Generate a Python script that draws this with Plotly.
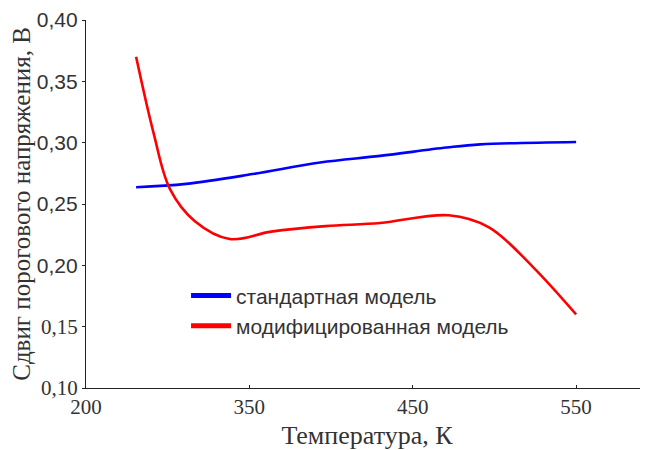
import plotly.graph_objects as go

# x values are in the chart's own (evenly spaced) axis units
x_tick_vals = [200, 350, 500, 650]
x_tick_text = ["200", "350", "450", "550"]
y_tick_vals = [0.10, 0.15, 0.20, 0.25, 0.30, 0.35, 0.40]
y_tick_text = ["0,10", "0,15", "0,20", "0,25", "0,30", "0,35", "0,40"]

std_x = [246, 292, 353, 415, 470, 531, 562, 650]
std_y = [0.2637, 0.2664, 0.2744, 0.2839, 0.2892, 0.2960, 0.2986, 0.3006]

mod_x = [246, 262, 277, 300, 332, 370, 420, 470, 533, 570, 610, 650]
mod_y = [0.370, 0.308, 0.2624, 0.236, 0.2215, 0.2275, 0.232, 0.2345, 0.2408, 0.231, 0.199, 0.160]

names = ["стандартная модель", "модифицированная модель"]

serif = "Liberation Serif, Times New Roman, serif"
sans = "Liberation Sans, Arial, sans-serif"

fig = go.Figure()
fig.add_trace(go.Scatter(x=std_x, y=std_y, mode="lines", line=dict(color="#0000ff", width=2.6, shape="spline", smoothing=1.0), showlegend=False))
fig.add_trace(go.Scatter(x=mod_x, y=mod_y, mode="lines", line=dict(color="#ff0000", width=2.6, shape="spline", smoothing=1.0), showlegend=False))
# legend entries (thicker sample lines)
fig.add_trace(go.Scatter(x=[None], y=[None], mode="lines", name=names[0], line=dict(color="#0000ff", width=5)))
fig.add_trace(go.Scatter(x=[None], y=[None], mode="lines", name=names[1], line=dict(color="#ff0000", width=5)))

ytt = []
for t in y_tick_text:
    if t in ("0,10", "0,15"):
        ytt.append('<span style="font-family:%s">%s</span>' % (serif, t))
    else:
        ytt.append(t)

fig.update_layout(
    width=640, height=442,
    margin=dict(l=78, r=0, t=8, b=62),
    paper_bgcolor="white", plot_bgcolor="white",
    xaxis=dict(range=[200, 716], tickvals=x_tick_vals, ticktext=x_tick_text,
               showgrid=False, zeroline=False, showline=True, linecolor="#222", linewidth=1.3,
               ticks="inside", ticklen=3, tickcolor="#222", ticklabeloverflow="allow",
               tickfont=dict(family=serif, size=21, color="#333"),
               title=dict(text="Температура, К", font=dict(family=serif, size=26, color="#333"), standoff=9)),
    yaxis=dict(range=[0.10, 0.40], tickvals=y_tick_vals, ticktext=ytt,
               showgrid=False, zeroline=False, showline=True, linecolor="#222", linewidth=1.3,
               ticks="outside", ticklen=3, tickcolor="#222", ticklabeloverflow="allow",
               tickfont=dict(family=sans, size=21, color="#333"),
               title=dict(text="Сдвиг порогового напряжения, В", font=dict(family=serif, size=25, color="#333"), standoff=2)),
    legend=dict(x=0.178, y=0.306, xanchor="left", yanchor="top", bgcolor="rgba(0,0,0,0)",
                font=dict(family=sans, size=21, color="#333"), itemwidth=40, tracegroupgap=0),
    showlegend=True,
)

fig.write_html("out.html")
